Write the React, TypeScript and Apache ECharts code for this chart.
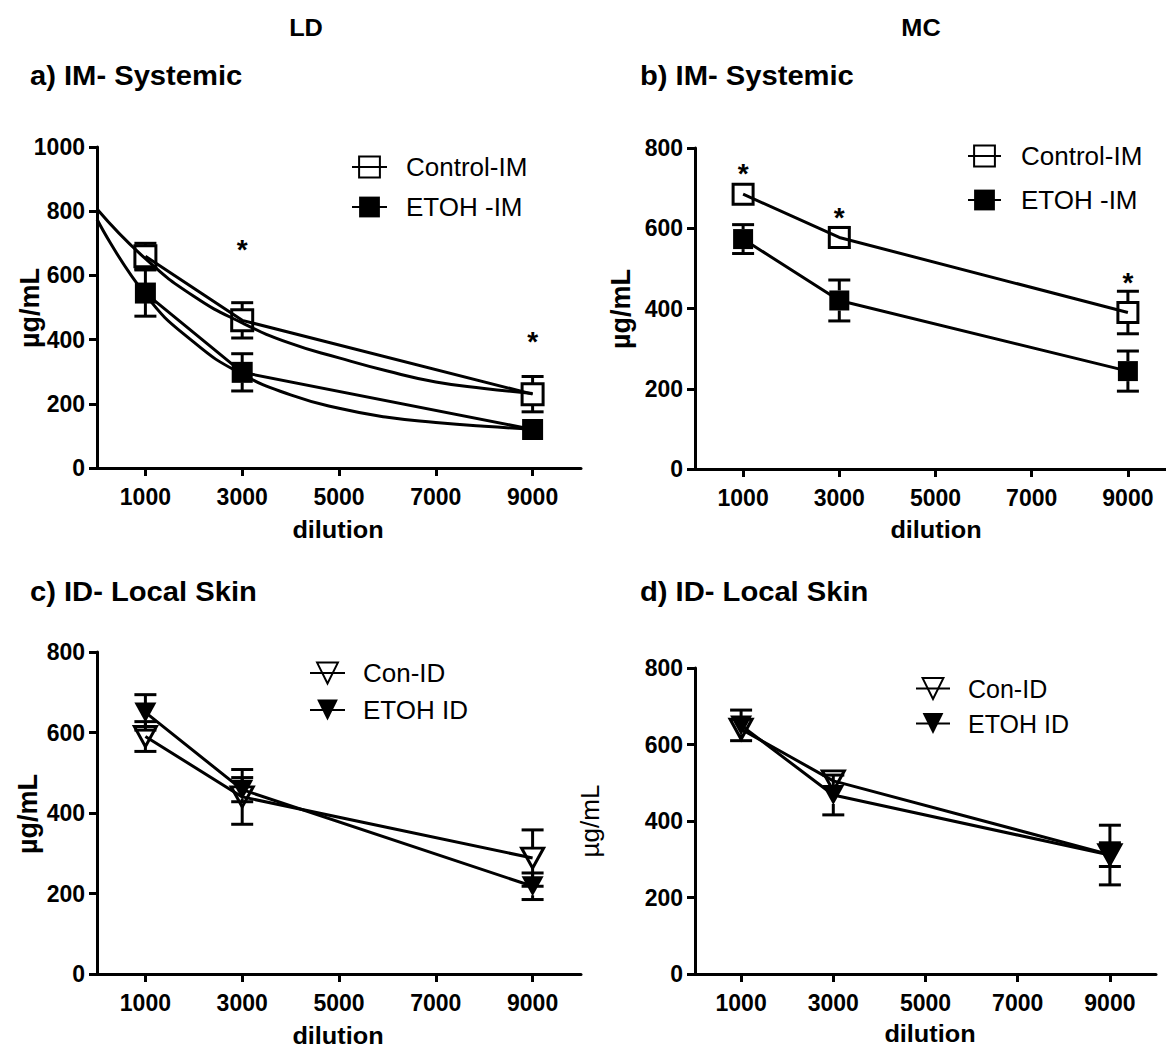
import React, { useEffect, useRef } from 'react';
import * as echarts from 'echarts';

const FONT = "'Liberation Sans', Arial, Helvetica, sans-serif";

const dilutions = [1000, 3000, 9000];
const xTickValues = [1000, 3000, 5000, 7000, 9000];

// a) LD, IM - Systemic
const ldImControl = [660, 460, 230];
const ldImControlErr = [40, 55, 55];
const ldImEtoh = [545, 298, 120];
const ldImEtohErr = [72, 58, 10];
const ldFitX = [0, 1000, 2000, 3000, 4000, 5000, 6000, 7000, 8000, 9000];
const ldImControlFit = [807, 652, 535, 452, 388, 343, 302, 268, 248, 232];
const ldImEtohFit = [775, 540, 392, 292, 228, 186, 158, 142, 130, 121];
const ldImStarX = [3000, 9000];
const ldImStarY = [688, 400];

// b) MC, IM - Systemic
const mcImControl = [685, 577, 390];
const mcImControlErr = [14, 25, 53];
const mcImEtoh = [573, 420, 244];
const mcImEtohErr = [36, 51, 50];
const mcImStarX = [1000, 3000, 9000];
const mcImStarY = [742, 633, 471];

// c) LD, ID - Local Skin
const ldIdCon = [590, 440, 288];
const ldIdConErr = [37, 68, 70];
const ldIdEtoh = [650, 458, 218];
const ldIdEtohErr = [44, 30, 33];

// d) MC, ID - Local Skin
const mcIdCon = [640, 505, 312];
const mcIdConErr = [10, 22, 31];
const mcIdEtoh = [650, 468, 311];
const mcIdEtohErr = [40, 52, 78];

const DOWN_TRI = 'path://M0,0L22,0L11,20Z';

function pairs(xs: number[], ys: number[]) {
  return xs.map((x, i) => [x, ys[i]]);
}

function lineSeries(name: string, gi: number, ys: number[], symbol: string, filled: boolean, size: any) {
  return {
    type: 'line',
    name,
    xAxisIndex: gi,
    yAxisIndex: gi,
    data: pairs(dilutions, ys),
    symbol,
    symbolSize: size,
    showSymbol: true,
    showAllSymbol: true,
    silent: true,
    z: 4,
    lineStyle: { color: '#000', width: 3 },
    itemStyle: {
      color: filled ? '#000' : 'rgba(255,255,255,0)',
      borderColor: '#000',
      borderWidth: filled ? 0 : 3,
    },
    emphasis: { disabled: true },
  };
}

function fitSeries(gi: number, ys: number[]) {
  return {
    type: 'line',
    xAxisIndex: gi,
    yAxisIndex: gi,
    data: pairs(ldFitX, ys),
    symbol: 'none',
    smooth: 0.5,
    silent: true,
    z: 3,
    lineStyle: { color: '#000', width: 3 },
    emphasis: { disabled: true },
  };
}

function errSeries(gi: number, ys: number[], errs: number[], half: number) {
  return {
    type: 'custom',
    xAxisIndex: gi,
    yAxisIndex: gi,
    silent: true,
    z: 2,
    data: dilutions.map((x, i) => [x, ys[i], errs[i]]),
    encode: { x: 0, y: 1 },
    renderItem: (_p: any, api: any) => {
      const x = api.value(0);
      const y = api.value(1);
      const e = api.value(2);
      const c = api.coord([x, y]);
      const top = api.coord([x, y + e])[1];
      const bot = api.coord([x, y - e])[1];
      const cw = 11;
      const st = { stroke: '#000', lineWidth: 3 };
      const children: any[] = [];
      if (c[1] - top > half) {
        children.push({ type: 'line', shape: { x1: c[0], y1: c[1] - half, x2: c[0], y2: top }, style: st });
        children.push({ type: 'line', shape: { x1: c[0] - cw, y1: top, x2: c[0] + cw, y2: top }, style: st });
      }
      if (bot - c[1] > half) {
        children.push({ type: 'line', shape: { x1: c[0], y1: c[1] + half, x2: c[0], y2: bot }, style: st });
        children.push({ type: 'line', shape: { x1: c[0] - cw, y1: bot, x2: c[0] + cw, y2: bot }, style: st });
      }
      return { type: 'group', children };
    },
  };
}

function starSeries(gi: number, xs: number[], ys: number[]) {
  return {
    type: 'custom',
    xAxisIndex: gi,
    yAxisIndex: gi,
    silent: true,
    z: 5,
    data: pairs(xs, ys),
    encode: { x: 0, y: 1 },
    renderItem: (_p: any, api: any) => {
      const c = api.coord([api.value(0), api.value(1)]);
      return {
        type: 'text',
        x: c[0],
        y: c[1] + 2,
        style: {
          text: '*',
          font: `bold 28px ${FONT}`,
          fill: '#000',
          align: 'center',
          verticalAlign: 'middle',
        },
      };
    },
  };
}

const axisLineStyle = { color: '#000', width: 3 };
const tickLabel = {
  fontSize: 23,
  fontWeight: 'bold',
  color: '#000',
  fontFamily: FONT,
  formatter: (v: number) => String(v),
};

function xAxisDef(gi: number) {
  return {
    type: 'value',
    gridIndex: gi,
    min: 0,
    max: 10000,
    axisLine: { show: true, onZero: false, lineStyle: axisLineStyle },
    axisTick: { show: true, customValues: xTickValues, length: 8, lineStyle: axisLineStyle },
    axisLabel: { ...tickLabel, customValues: xTickValues, margin: 17 },
    splitLine: { show: false },
  };
}

function yAxisDef(gi: number, max: number) {
  return {
    type: 'value',
    gridIndex: gi,
    min: 0,
    max,
    interval: 200,
    axisLine: { show: true, onZero: false, lineStyle: axisLineStyle },
    axisTick: { show: true, length: 8, lineStyle: axisLineStyle },
    axisLabel: { ...tickLabel, margin: 12 },
    splitLine: { show: false },
  };
}

function legendDef(names: string[], left: number, top: number, itemWidth: number, itemGap: number, fontSize: number, pad: number) {
  return {
    data: names,
    left,
    top,
    orient: 'vertical',
    itemWidth,
    itemHeight: 26,
    itemGap,
    padding: 0,
    selectedMode: false,
    textStyle: { fontSize, color: '#000', fontFamily: FONT, padding: [0, 0, 0, pad] },
  };
}

function txt(text: string, x: number, y: number, size: number, bold: boolean, align: string, opts: any = {}) {
  return {
    type: 'text',
    x,
    y,
    ...opts,
    style: {
      text,
      font: `${bold ? 'bold ' : ''}${size}px ${FONT}`,
      fill: '#000',
      align,
      verticalAlign: 'middle',
      textAlign: align,
      textVerticalAlign: 'middle',
    },
  };
}

const option: any = {
  animation: false,
  backgroundColor: '#fff',
  grid: [
    { left: 97, top: 147, width: 484, height: 321, outerBoundsMode: 'none' },
    { left: 695, top: 148, width: 481, height: 321, outerBoundsMode: 'none' },
    { left: 97, top: 652, width: 484, height: 322, outerBoundsMode: 'none' },
    { left: 695, top: 668, width: 461, height: 306, outerBoundsMode: 'none' },
  ],
  xAxis: [xAxisDef(0), xAxisDef(1), xAxisDef(2), xAxisDef(3)],
  yAxis: [yAxisDef(0, 1000), yAxisDef(1, 800), yAxisDef(2, 800), yAxisDef(3, 800)],
  legend: [
    legendDef(['Control-IM', 'ETOH -IM'], 351, 154, 35, 14, 26, 14),
    legendDef(['Control-IM', 'ETOH -IM'], 967, 143, 33, 18, 26, 15),
    legendDef(['Con-ID', 'ETOH ID'], 309, 660, 35, 11, 26, 13),
    legendDef(['Con-ID', 'ETOH ID'], 915, 676, 34, 10, 25, 13),
  ],
  series: [
    // a
    errSeries(0, ldImControl, ldImControlErr, 10),
    errSeries(0, ldImEtoh, ldImEtohErr, 10),
    fitSeries(0, ldImControlFit),
    fitSeries(0, ldImEtohFit),
    lineSeries('Control-IM', 0, ldImControl, 'rect', false, 21),
    lineSeries('ETOH -IM', 0, ldImEtoh, 'rect', true, 21),
    starSeries(0, ldImStarX, ldImStarY),
    // b
    errSeries(1, mcImControl, mcImControlErr, 10),
    errSeries(1, mcImEtoh, mcImEtohErr, 10),
    lineSeries('Control-IM', 1, mcImControl, 'rect', false, 20),
    lineSeries('ETOH -IM', 1, mcImEtoh, 'rect', true, 20),
    starSeries(1, mcImStarX, mcImStarY),
    // c
    errSeries(2, ldIdCon, ldIdConErr, 9),
    errSeries(2, ldIdEtoh, ldIdEtohErr, 9),
    lineSeries('Con-ID', 2, ldIdCon, DOWN_TRI, false, [22, 20]),
    lineSeries('ETOH ID', 2, ldIdEtoh, DOWN_TRI, true, [22, 20]),
    // d
    errSeries(3, mcIdCon, mcIdConErr, 9),
    errSeries(3, mcIdEtoh, mcIdEtohErr, 9),
    lineSeries('Con-ID', 3, mcIdCon, DOWN_TRI, false, [22, 20]),
    lineSeries('ETOH ID', 3, mcIdEtoh, DOWN_TRI, true, [22, 20]),
  ],
  graphic: [
    txt('LD', 306, 28, 23, true, 'center', { scaleX: 1.1 }),
    txt('MC', 921, 28, 23, true, 'center', { scaleX: 1.1 }),
    txt('a) IM- Systemic', 30, 76, 27, true, 'left', { scaleX: 1.08 }),
    txt('b) IM- Systemic', 640, 76, 27, true, 'left', { scaleX: 1.08 }),
    txt('c) ID- Local Skin', 30, 592, 27, true, 'left', { scaleX: 1.08 }),
    txt('d) ID- Local Skin', 640, 592, 27, true, 'left', { scaleX: 1.08 }),
    txt('dilution', 338, 530, 23, true, 'center', { scaleX: 1.1 }),
    txt('dilution', 936, 530, 23, true, 'center', { scaleX: 1.1 }),
    txt('dilution', 338, 1036, 23, true, 'center', { scaleX: 1.1 }),
    txt('dilution', 930, 1034, 23, true, 'center', { scaleX: 1.1 }),
    txt('µg/mL', 30, 308, 27, true, 'center', { rotation: Math.PI / 2 }),
    txt('µg/mL', 621, 309, 27, true, 'center', { rotation: Math.PI / 2 }),
    txt('µg/mL', 28, 814, 27, true, 'center', { rotation: Math.PI / 2 }),
    txt('µg/mL', 590, 821, 26, false, 'center', { rotation: Math.PI / 2 }),
  ],
};

export default function App() {
  const ref = useRef<HTMLDivElement>(null);
  useEffect(() => {
    if (!ref.current) return;
    const chart = echarts.init(ref.current, null, { renderer: 'svg', width: 1166, height: 1048 });
    chart.setOption(option);
    return () => chart.dispose();
  }, []);
  return (
    <div
      ref={ref}
      style={{ position: 'absolute', left: 0, top: 0, width: 1166, height: 1048, background: '#fff' }}
    />
  );
}
